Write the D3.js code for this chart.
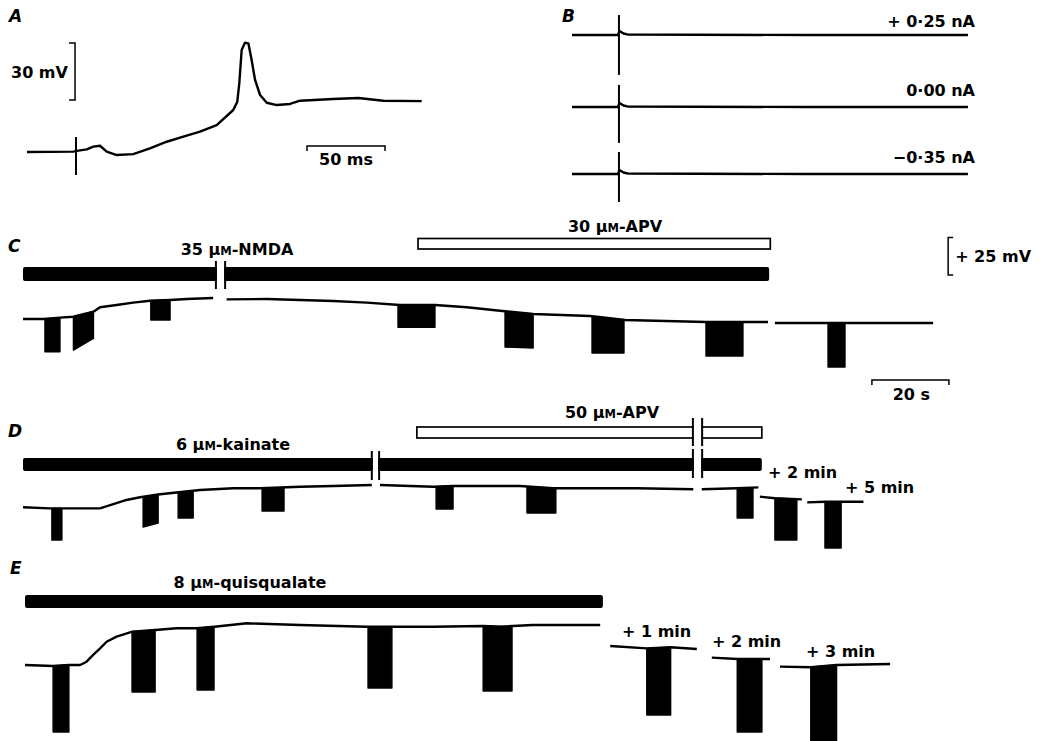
<!DOCTYPE html>
<html><head><meta charset="utf-8">
<script src="https://cdn.jsdelivr.net/npm/d3@7"></script>
<style>
body{margin:0;background:#fff}
svg{display:block;background:#fff}
text{font-family:"DejaVu Sans",sans-serif;font-weight:bold;fill:#000}
</style>
</head><body>
<svg id="fig" width="1043" height="741"></svg>
<script>
// ---------------- DATA ----------------
// Panel A: membrane potential (ms, mV relative to rest)
const aTrace = [[0,0],[29.7,0.2],[32.9,0.7],[38.3,1.4],[42.5,2.8],[46.8,3.3],[51.1,0.2],[57.5,-1.6],[68.1,-1.1],[78.8,1.9],[89.6,5.4],[100.2,8.1],[110.9,10.7],[121.6,14.2],[132.2,22.1],[134.8,26.5],[136.1,36.3],[137.6,53.7],[139.7,57.5],[141.9,57.2],[144,48.4],[146.2,37.9],[149.4,30],[153.7,25.9],[160.1,24.7],[168.6,25.3],[175,27],[196.2,27.9],[212.4,28.4],[228.4,27],[253,26.8]];
const aArtifact = {t:31.4, top:7.9, bottom:-12.1};
const aScaleMv = 30;   // mV
const aScaleMs = 50;   // ms

// Panel B: three current levels, flat traces with stimulus artifact
const bCurrents = ["+ 0·25 nA", "0·00 nA", "\u22120·35 nA"];
const bTrace = [[0,0],[29.5,0],[30.4,2.1],[33,0.8],[36,0.2],[80,0.1],[150,0],[253.8,0]];
const bArtifactT = 30.1;
const bArtifactTop = [10.5, 11.6, 11.6];
const bArtifactBottom = [-21, -18.9, -14.7];

// Panel C: NMDA (s, mV)
const cTrace = [
  [[0,0],[5.3,0],[9.6,0.9],[13.1,1.5],[18.3,4.9],[20,7.8],[24.3,9.3],[28.6,10.9],[33,12.2],[38.2,12.7],[42.5,13.3],[49.4,14]],
  [[52.9,13.1],[63.3,13.3],[71.9,12.7],[80.6,12],[89.3,10.9],[97.9,9.3],[107,9.3],[115.3,7.8],[123.9,5.5],[132.5,3.3],[147.3,2],[156.4,-0.7],[177.4,-2],[193.5,-2]],
  [[195.3,-2.7],[236.4,-2.7]]
];
const cPulses = [[5.7,9.6,0,0.9,-21.8,-21.8],[13.1,18.3,1.5,4.9,-20.7,-12.9],[33.2,38.2,12.2,12.7,-0.7,-0.7],[97.4,107,9.3,9.3,-5.5,-5.5],[125.2,132.5,4.5,3.3,-18.7,-19.3],[147.8,156.1,1.5,-0.7,-22.7,-22.7],[177.4,187,-2,-2,-24.7,-24.7],[209.1,213.5,-2.7,-2.7,-32,-32]];
const cAgonist = {t0:0, t1:193.8, breaks:[[50.1,52.5]]};
const cAntagonist = {t0:102.6, t1:194.1, breaks:[]};
const cScaleMv = 25;  // mV
const cScaleS = 20;   // s

// Panel D: kainate
const dTrace = [
  [[0,-0.2],[7,-0.9],[20,-0.9],[26.9,4.7],[30.4,6.5],[35.6,8.5],[46,11.3],[54.6,12.5],[61.6,12.5],[72,13.5],[80.6,14],[90.6,14.7]],
  [[92.7,14.7],[106.6,13.5],[111.8,14],[129.1,14],[137.7,12.5],[146.4,12.5],[159.4,12.5],[174.1,11.8]],
  [[176.3,11.8],[185.4,12.5],[191,13.1]],
  [[191.4,6.9],[195.3,5.8],[202.3,5.1]],
  [[203.7,3.1],[208.3,3.5],[218.3,3.5]]
];
const dPulses = [[7.5,10.1,-0.9,-0.9,-22,-22],[31.2,35.1,6.5,8.3,-13.3,-10.7],[40.3,44.2,9.3,9.8,-7.3,-7.3],[62.1,67.8,12.5,12.5,-2.7,-2.7],[107.3,111.7,13.5,14,-1.3,-1.3],[130.9,138.4,13.5,12.5,-4,-4],[185.5,189.6,12.5,12.5,-7.3,-7.3],[195.3,201,5.8,5.3,-22,-22],[208.3,212.5,3.5,3.5,-27.3,-27.3]];
const dAgonist = {t0:0, t1:191.9, breaks:[[90.6,92.5],[174,176.4]]};
const dAntagonist = {t0:102.3, t1:191.9, breaks:[[174,176.4]]};
const dRecovery = ["+ 2 min", "+ 5 min"];

// Panel E: quisqualate
const eTrace = [
  [[0,0],[7.3,-0.7],[11.4,0],[14.3,0],[16,2.2],[17.7,6.7],[19.5,11.1],[21.2,15.5],[23.8,18.9],[27.9,22.2],[33.8,23.3],[39.4,24.5],[44.7,24.5],[49.2,25.5],[57.6,27.8],[71.4,26.7],[88.8,25.5],[106.1,25.5],[119,26],[123.4,25.5],[131.9,26.7],[149.4,26.7]],
  [[152,12.7],[161.5,11.1],[167.7,11.8],[174.5,10.7]],
  [[178.4,4.9],[185,4],[193.5,4]],
  [[196.1,-1.1],[204.1,-1.5],[210.8,0],[224.7,0.7]]
];
const ePulses = [[7.3,11.4,-0.7,0,-44.7,-44.7],[27.8,33.8,22.2,23.3,-18,-18],[44.7,49.1,24.5,25.5,-16.7,-16.7],[89.1,95.3,25.5,25.5,-15.3,-15.3],[119,126.5,26,25.5,-17.3,-17.3],[161.5,167.7,11.1,11.8,-33.3,-33.3],[185,191.4,4,4,-44.7,-44.7],[204.1,210.8,-1.5,0,-55,-55]];
const eAgonist = {t0:0, t1:150.1, breaks:[]};
const eRecovery = ["+ 1 min", "+ 2 min", "+ 3 min"];

// ---------------- DRAWING ----------------
const svg = d3.select('#fig');
const TRACE_W = 2.4;

function lineGen(x, y){ return d3.line().x(d=>x(d[0])).y(d=>y(d[1])); }
function drawTrace(g, pts, x, y){
  g.append('path').attr('d', lineGen(x,y)(pts)).attr('fill','none')
   .attr('stroke','#000').attr('stroke-width',TRACE_W).attr('stroke-linejoin','round');
}
function drawPulses(g, pulses, x, y){
  g.selectAll(null).data(pulses).enter().append('path')
   .attr('d', p => 'M'+x(p[0])+','+y(p[2])+'L'+x(p[1])+','+y(p[3])+'L'+x(p[1])+','+y(p[5])+'L'+x(p[0])+','+y(p[4])+'Z')
   .attr('fill','#000').attr('stroke','#000').attr('stroke-width',1.4).attr('stroke-linejoin','round');
}
function drawBar(g, bar, x, yTop, h, filled, breakTop, breakBot){
  g.append('rect').attr('x', x(bar.t0)).attr('y', yTop).attr('width', x(bar.t1)-x(bar.t0)).attr('height', h)
   .attr('rx', filled?2:0).attr('fill', filled?'#000':'#fff').attr('stroke','#000').attr('stroke-width', filled?0:1.7);
  bar.breaks.forEach(b => {
    g.append('rect').attr('x', x(b[0])+1).attr('y', yTop-2).attr('width', x(b[1])-x(b[0])-2).attr('height', h+4).attr('fill','#fff');
    [b[0], b[1]].forEach(t => g.append('line').attr('x1',x(t)).attr('x2',x(t)).attr('y1',breakTop).attr('y2',breakBot)
      .attr('stroke','#000').attr('stroke-width',2));
  });
}
function drugLabel(g, xPos, yPos, prefix, suffix){
  const t = g.append('text').attr('x',xPos).attr('y',yPos).attr('text-anchor','middle').attr('font-size',16);
  t.append('tspan').text(prefix + ' \u03bc');
  t.append('tspan').attr('font-size',11.5).text('M');
  t.append('tspan').text('-' + suffix);
}
function panelLabel(txt, xPos, yPos){
  svg.append('text').attr('x',xPos).attr('y',yPos).attr('font-size',17).attr('font-style','italic').text(txt);
}

// ---- Panel A ----
const xA = d3.scaleLinear().domain([0,100]).range([27,183]);
const yA = d3.scaleLinear().domain([0,30]).range([152,95]);
const gA = svg.append('g');
panelLabel('A', 9, 22);
drawTrace(gA, aTrace, xA, yA);
gA.append('line').attr('x1',xA(aArtifact.t)).attr('x2',xA(aArtifact.t)).attr('y1',yA(aArtifact.top)).attr('y2',yA(aArtifact.bottom))
  .attr('stroke','#000').attr('stroke-width',2);
// 30 mV bracket
const aBarX = xA(30.8), aBarY0 = yA(27.4), aBarY1 = yA(27.4 + aScaleMv);
gA.append('path').attr('d', `M${aBarX-6},${aBarY1}H${aBarX}V${aBarY0}H${aBarX-6}`).attr('fill','none').attr('stroke','#000').attr('stroke-width',1.5);
gA.append('text').attr('x', 11).attr('y', 78).attr('font-size',16).text(aScaleMv + ' mV');
// 50 ms bar
const aMs0 = 179.5, aMsY = yA(3.2);
gA.append('path').attr('d', `M${xA(aMs0)},${aMsY+5}V${aMsY}H${xA(aMs0+aScaleMs)}V${aMsY+5}`).attr('fill','none').attr('stroke','#000').attr('stroke-width',1.5);
gA.append('text').attr('x', (xA(aMs0)+xA(aMs0+aScaleMs))/2).attr('y', 165).attr('text-anchor','middle').attr('font-size',16).text(aScaleMs + ' ms');

// ---- Panel B ----
const xB = d3.scaleLinear().domain([0,100]).range([572,728]);
const bBase = [35, 107, 174];
const bLabelY = [27, 96, 163];
panelLabel('B', 562, 22);
bCurrents.forEach((lab, i) => {
  const yB = d3.scaleLinear().domain([0,10]).range([bBase[i], bBase[i]-19]);
  const g = svg.append('g');
  drawTrace(g, bTrace, xB, yB);
  g.append('line').attr('x1',xB(bArtifactT)).attr('x2',xB(bArtifactT)).attr('y1',yB(bArtifactTop[i])).attr('y2',yB(bArtifactBottom[i]))
    .attr('stroke','#000').attr('stroke-width',2);
  g.append('text').attr('x',975).attr('y',bLabelY[i]).attr('text-anchor','end').attr('font-size',16).text(lab);
});

// ---- Panel C ----
const xC = d3.scaleLinear().domain([0,100]).range([23,408]);
const yC = d3.scaleLinear().domain([0,10]).range([319,304]);
const gC = svg.append('g');
panelLabel('C', 8, 252);
drawBar(gC, cAntagonist, xC, 238.5, 10.5, false, 0, 0);
drawBar(gC, cAgonist, xC, 267, 14, true, 261, 289);
drugLabel(gC, 237, 255, '35', 'NMDA');
drugLabel(gC, 615, 232, '30', 'APV');
drawPulses(gC, cPulses, xC, yC);
cTrace.forEach(s => drawTrace(gC, s, xC, yC));
// 25 mV bracket
const cbX = xC(240.3), cbY0 = yC(29.3), cbY1 = yC(29.3 + cScaleMv);
gC.append('path').attr('d', `M${cbX+5},${cbY1}H${cbX}V${cbY0}H${cbX+5}`).attr('fill','none').attr('stroke','#000').attr('stroke-width',1.5);
gC.append('text').attr('x', cbX+7).attr('y', 262).attr('font-size',16).text('+ ' + cScaleMv + ' mV');
// 20 s bar
const cs0 = 220.5, csY = yC(-40.7);
gC.append('path').attr('d', `M${xC(cs0)},${csY+5}V${csY}H${xC(cs0+cScaleS)}V${csY+5}`).attr('fill','none').attr('stroke','#000').attr('stroke-width',1.5);
gC.append('text').attr('x', (xC(cs0)+xC(cs0+cScaleS))/2+1).attr('y', 400).attr('text-anchor','middle').attr('font-size',16).text(cScaleS + ' s');

// ---- Panel D ----
const xD = d3.scaleLinear().domain([0,100]).range([23,408]);
const yD = d3.scaleLinear().domain([0,10]).range([507,492]);
const gD = svg.append('g');
panelLabel('D', 8, 437);
drawBar(gD, dAntagonist, xD, 427, 11, false, 418, 446);
drawBar(gD, {t0:dAgonist.t0, t1:dAgonist.t1, breaks:[dAgonist.breaks[0]]}, xD, 458, 13, true, 451, 480);
drawBar(gD, {t0:dAgonist.t1, t1:dAgonist.t1, breaks:[dAgonist.breaks[1]]}, xD, 458, 13, true, 449, 478);
drugLabel(gD, 233, 450, '6', 'kainate');
drugLabel(gD, 612, 418, '50', 'APV');
drawPulses(gD, dPulses, xD, yD);
dTrace.forEach(s => drawTrace(gD, s, xD, yD));
gD.append('text').attr('x', 768).attr('y', 478).attr('font-size',16).text(dRecovery[0]);
gD.append('text').attr('x', 845).attr('y', 493).attr('font-size',16).text(dRecovery[1]);

// ---- Panel E ----
const xE = d3.scaleLinear().domain([0,100]).range([25,410]);
const yE = d3.scaleLinear().domain([0,10]).range([665,650]);
const gE = svg.append('g');
panelLabel('E', 10, 574);
drawBar(gE, eAgonist, xE, 595, 13, true, 0, 0);
drugLabel(gE, 250, 588, '8', 'quisqualate');
drawPulses(gE, ePulses, xE, yE);
eTrace.forEach(s => drawTrace(gE, s, xE, yE));
gE.append('text').attr('x', 622).attr('y', 637).attr('font-size',16).text(eRecovery[0]);
gE.append('text').attr('x', 712).attr('y', 647).attr('font-size',16).text(eRecovery[1]);
gE.append('text').attr('x', 806).attr('y', 657).attr('font-size',16).text(eRecovery[2]);
</script>
</body></html>
